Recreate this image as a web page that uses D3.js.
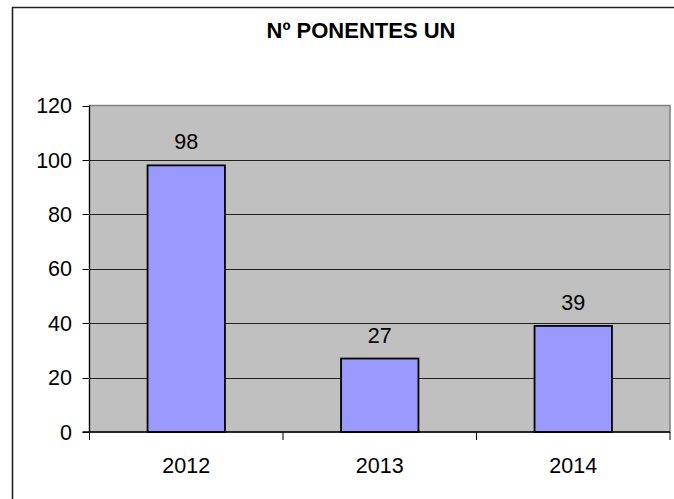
<!DOCTYPE html>
<html>
<head>
<meta charset="utf-8">
<script src="https://cdn.jsdelivr.net/npm/d3@7"></script>
<style>
  body { margin: 0; background: #fff; overflow: hidden; }
  svg { display: block; font-family: Arial, "Liberation Sans", sans-serif; }
</style>
</head>
<body>
<div id="chart"></div>
<script>
// data
const title = "Nº PONENTES UN";
const years = ["2012", "2013", "2014"];
const ponentes = [98, 27, 39];
const yTicks = [0, 20, 40, 60, 80, 100, 120];

const W = 674, H = 499;
const plot = {left: 89.5, right: 670, top: 105.5, bottom: 432};

var svg = d3.select("#chart").append("svg")
  .attr("width", W)
  .attr("height", H);

// outer chart frame: only the left and top edges are inside the picture
svg.append("path")
  .attr("d", "M12.5," + H + "V7.5H" + W)
  .attr("fill", "none")
  .attr("stroke", "#222")
  .attr("stroke-width", 1.6);

svg.append("text")
  .attr("x", 361)
  .attr("y", 38)
  .attr("text-anchor", "middle")
  .attr("font-size", 22)
  .attr("font-weight", "bold")
  .text(title);

var x = d3.scaleBand()
  .domain(years)
  .range([plot.left, plot.right])
  .paddingInner(0.6)
  .paddingOuter(0.3);

var y = d3.scaleLinear()
  .domain([0, 120])
  .range([plot.bottom, plot.top]);

// plot background
svg.append("rect")
  .attr("x", plot.left).attr("y", plot.top)
  .attr("width", plot.right - plot.left)
  .attr("height", plot.bottom - plot.top)
  .attr("fill", "#c0c0c0")
  .attr("stroke", "#808080")
  .attr("stroke-width", 1.5);

// gridlines
svg.selectAll("line.grid")
  .data(yTicks.filter(function(d) { return d > 0 && d < 120; }))
  .enter().append("line")
  .attr("class", "grid")
  .attr("x1", plot.left).attr("x2", plot.right)
  .attr("y1", function(d) { return Math.round(y(d)) + 0.5; })
  .attr("y2", function(d) { return Math.round(y(d)) + 0.5; })
  .attr("stroke", "#222")
  .attr("stroke-width", 1.2);

// y axis
svg.append("line")
  .attr("x1", plot.left).attr("x2", plot.left)
  .attr("y1", plot.top).attr("y2", plot.bottom)
  .attr("stroke", "#000").attr("stroke-width", 1.2);

svg.selectAll("line.ytick")
  .data(yTicks)
  .enter().append("line")
  .attr("class", "ytick")
  .attr("x1", plot.left - 7).attr("x2", plot.left)
  .attr("y1", function(d) { return Math.round(y(d)) + 0.5; })
  .attr("y2", function(d) { return Math.round(y(d)) + 0.5; })
  .attr("stroke", "#000");

svg.selectAll("text.ylab")
  .data(yTicks)
  .enter().append("text")
  .attr("class", "ylab")
  .attr("x", 72)
  .attr("y", function(d) { return y(d); })
  .attr("dy", "0.36em")
  .attr("text-anchor", "end")
  .attr("font-size", 21.5)
  .text(function(d) { return d; });

// bars
svg.selectAll("rect.bar")
  .data(ponentes)
  .enter().append("rect")
  .attr("class", "bar")
  .attr("x", function(d, i) { return x(years[i]); })
  .attr("y", function(d) { return y(d); })
  .attr("width", x.bandwidth())
  .attr("height", function(d) { return y(0) - y(d); })
  .attr("fill", "#9999ff")
  .attr("stroke", "#000")
  .attr("stroke-width", 1.8);

svg.selectAll("text.val")
  .data(ponentes)
  .enter().append("text")
  .attr("class", "val")
  .attr("x", function(d, i) { return x(years[i]) + x.bandwidth() / 2; })
  .attr("y", function(d) { return y(d) - 16; })
  .attr("text-anchor", "middle")
  .attr("font-size", 21.5)
  .text(function(d) { return d; });

// x axis
svg.append("line")
  .attr("x1", plot.left - 7).attr("x2", plot.right)
  .attr("y1", plot.bottom).attr("y2", plot.bottom)
  .attr("stroke", "#000").attr("stroke-width", 1.5);

var bounds = d3.range(years.length + 1).map(function(i) {
  return x.range()[0] + i * x.step();
});
svg.selectAll("line.xtick")
  .data(bounds)
  .enter().append("line")
  .attr("class", "xtick")
  .attr("x1", function(d) { return d; })
  .attr("x2", function(d) { return d; })
  .attr("y1", plot.bottom).attr("y2", plot.bottom + 8)
  .attr("stroke", "#000");

svg.selectAll("text.xlab")
  .data(years)
  .enter().append("text")
  .attr("class", "xlab")
  .attr("x", function(d) { return x(d) + x.bandwidth() / 2; })
  .attr("y", 473)
  .attr("text-anchor", "middle")
  .attr("font-size", 21.5)
  .text(function(d) { return d; });
</script>
</body>
</html>
